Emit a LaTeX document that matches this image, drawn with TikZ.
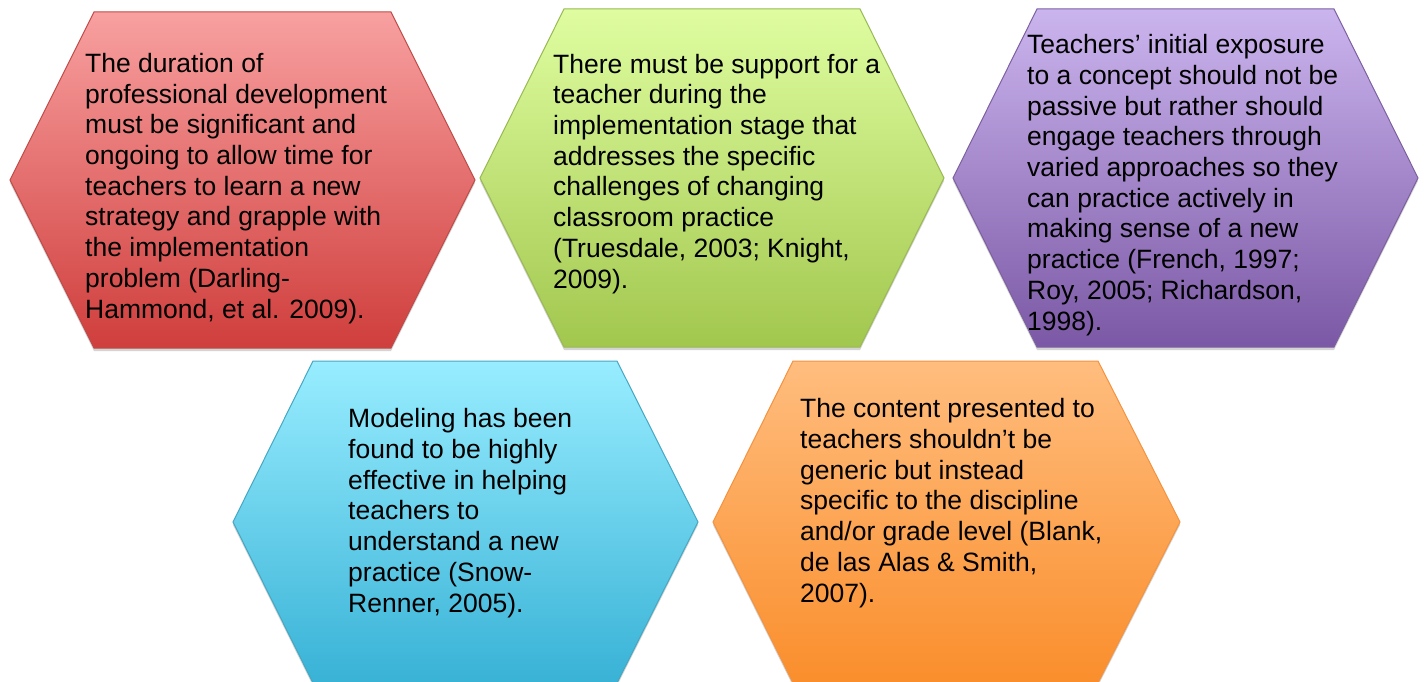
\documentclass[tikz,border=0pt]{standalone}
\usepackage{fontspec}
\setmainfont{Liberation Sans}
\usepackage{xcolor}
\usepackage{tikz}
\usetikzlibrary{shadows}
\definecolor{redtop}{HTML}{F8A0A0}
\definecolor{redbot}{HTML}{CF3E3C}
\definecolor{redln}{HTML}{BE4B48}
\definecolor{grntop}{HTML}{DFFDA0}
\definecolor{grnbot}{HTML}{A2C74E}
\definecolor{grnln}{HTML}{98B954}
\definecolor{purtop}{HTML}{CBB5EE}
\definecolor{purbot}{HTML}{7B58A5}
\definecolor{purln}{HTML}{7D60A0}
\definecolor{cyntop}{HTML}{98EDFF}
\definecolor{cynbot}{HTML}{38B2D6}
\definecolor{cynln}{HTML}{46A7C2}
\definecolor{orgtop}{HTML}{FFBD7E}
\definecolor{orgbot}{HTML}{FA8E2C}
\definecolor{orgln}{HTML}{F39340}
\tikzset{
  hexcell/.style={line width=1pt, line join=miter,
    drop shadow={shadow xshift=0pt, shadow yshift=-3pt, opacity=0.28, fill=black!60}},
  celltext/.style={anchor=base west, inner sep=0pt, align=left, text=black,
    font=\fontsize{26.5}{30.7}\selectfont},
}
\begin{document}
\begin{tikzpicture}[x=1pt, y=-1pt]
\useasboundingbox[fill=white] (0,0) rectangle (1426,682);

% top row
\draw[hexcell, draw=redln, top color=redtop, bottom color=redbot]
  (94,12) -- (391,12) -- (475,180) -- (391,348) -- (94,348) -- (10,180) -- cycle;
\draw[hexcell, draw=grnln, top color=grntop, bottom color=grnbot]
  (564,9) -- (860,9) -- (944,178) -- (860,347) -- (564,347) -- (480,178) -- cycle;
\draw[hexcell, draw=purln, top color=purtop, bottom color=purbot]
  (1037,9) -- (1334,9) -- (1418,178) -- (1334,347) -- (1037,347) -- (953,178) -- cycle;

% bottom row
\draw[hexcell, draw=cynln, top color=cyntop, bottom color=cynbot]
  (313,361) -- (617,361) -- (698,522) -- (617,683) -- (313,683) -- (233,522) -- cycle;
\draw[hexcell, draw=orgln, top color=orgtop, bottom color=orgbot]
  (793,361) -- (1098,361) -- (1180,522) -- (1098,683) -- (793,683) -- (713,522) -- cycle;

% texts, placed by the baseline of their last line
\node[celltext] (duration) at (85,318) {The duration of\\professional development\\must be significant and\\ongoing to allow time for\\teachers to learn a new\\strategy and grapple with\\the implementation\\problem (Darling-\\Hammond, et al. 2009).};
\node[celltext] (support) at (553,288) {There must be support for a\\teacher during the\\implementation stage that\\addresses the specific\\challenges of changing\\classroom practice\\(Truesdale, 2003; Knight,\\2009).};
\node[celltext] (exposure) at (1027,330) {Teachers’ initial exposure\\to a concept should not be\\passive but rather should\\engage teachers through\\varied approaches so they\\can practice actively in\\making sense of a new\\practice (French, 1997;\\Roy, 2005; Richardson,\\1998).};
\node[celltext] (modeling) at (348,612) {Modeling has been\\found to be highly\\effective in helping\\teachers to\\understand a new\\practice (Snow-\\Renner, 2005).};
\node[celltext] (content) at (800,602) {The content presented to\\teachers shouldn’t be\\generic but instead\\specific to the discipline\\and/or grade level (Blank,\\de las Alas \& Smith,\\2007).};
\end{tikzpicture}
\end{document}
